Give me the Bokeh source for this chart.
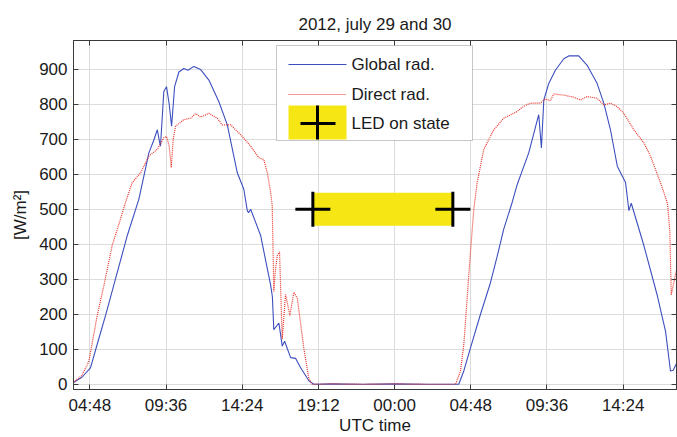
from bokeh.plotting import figure
from bokeh.models import (ColumnDataSource, FixedTicker, LinearAxis, Range1d,
                          BoxAnnotation, Arrow, Label)
from bokeh.embed import file_html
from bokeh.resources import INLINE

FONT = "Liberation Sans"
TITLE = "2012, july 29 and 30"
X_LABEL = "UTC time"
Y_LABEL = "[W/m²]"

# time in hours since 2012-07-29 00:00 UTC
x_ticks = [4.8, 9.6, 14.4, 19.2, 24.0, 28.8, 33.6, 38.4]
x_tick_labels = ["04:48", "09:36", "14:24", "19:12", "00:00", "04:48", "09:36", "14:24"]
y_ticks = [0, 100, 200, 300, 400, 500, 600, 700, 800, 900]

global_t = [3.77, 4.30, 4.84, 5.30, 5.80, 6.42, 7.16, 7.89, 8.52, 8.85, 9.05, 9.20, 9.25,
            9.46, 9.63, 9.80, 9.95, 10.14, 10.41, 10.72, 10.98, 11.35, 11.78, 12.30, 12.93,
            13.46, 14.09, 14.50, 14.72, 14.80, 14.93, 15.56, 16.19, 16.30, 16.39, 16.71,
            16.92, 17.07, 17.45, 17.76, 18.08, 18.60, 18.91, 20.0, 22.0, 24.0, 26.0, 27.5,
            28.04, 28.36, 28.78, 29.41, 30.04, 30.46, 30.88, 31.41, 31.72, 32.45, 33.08,
            33.25, 33.40, 33.71, 34.13, 34.66, 34.97, 35.60, 36.13, 36.76, 37.18, 37.60,
            38.03, 38.55, 38.70, 38.76, 38.91, 39.70, 40.54, 41.07, 41.38, 41.55, 41.83]
global_rad = [5, 20, 47, 120, 198, 302, 425, 529, 661, 700, 727, 690, 680,
              836, 850, 800, 737, 850, 892, 902, 897, 908, 899, 869, 807,
              741, 604, 557, 496, 490, 500, 425, 283, 250, 156, 175,
              109, 123, 76, 74, 47, 10, 0, 1, 0, 1, 0, 0,
              0, 38, 104, 200, 290, 365, 444, 520, 570, 661, 770,
              675, 812, 859, 897, 930, 938, 938, 911, 859, 803, 727,
              623, 576, 520, 496, 517, 397, 255, 151, 38, 40, 66]

direct_t = [3.77, 4.30, 4.74, 5.27, 5.69, 6.21, 6.73, 7.05, 7.47, 8.00, 8.52, 9.05, 9.46,
            9.63, 9.80, 9.93, 10.05, 10.20, 10.72, 11.15, 11.46, 11.78, 12.30, 12.83,
            13.14, 13.67, 14.30, 14.93, 15.45, 15.76, 16.00, 16.19, 16.29, 16.39, 16.50,
            16.61, 16.75, 16.92, 17.13, 17.40, 17.66, 17.87, 18.29, 18.60, 18.80, 20.0,
            22.0, 24.0, 26.0, 27.5, 27.84, 28.15, 28.36, 28.57, 28.78, 28.99, 29.20,
            29.62, 30.25, 30.88, 31.72, 32.00, 32.30, 32.56, 33.19, 33.50, 33.80, 34.03,
            34.66, 35.29, 35.71, 36.13, 36.76, 37.18, 37.60, 38.03, 38.44, 39.07, 39.70,
            40.12, 40.75, 41.17, 41.21, 41.34, 41.43, 41.64, 41.83]
direct_rad = [5, 25, 66, 198, 283, 397, 472, 520, 576, 604, 652, 671, 704,
              708, 680, 619, 700, 737, 756, 760, 773, 763, 774, 760,
              741, 741, 713, 680, 647, 642, 600, 548, 510, 265, 330,
              368, 378, 129, 257, 197, 263, 246, 100, 15, 0, 1,
              0, 1, 0, 0, 0, 38, 113, 246, 378, 500, 576,
              671, 727, 760, 779, 790, 798, 803, 803, 815, 810, 829,
              826, 820, 812, 822, 817, 798, 803, 793, 774, 727, 690,
              652, 576, 520, 510, 435, 255, 302, 340]

led_t = [18.85, 27.67]
led_level = [500, 500]

assert len(global_t) == len(global_rad)
assert len(direct_t) == len(direct_rad)

BLUE = "#3d4fbf"
RED = "#e8352a"
YELLOW = "#f6e714"
AXIS = "#3a3a3a"
TEXT = "#1a1a1a"

p = figure(width=677, height=437, output_backend="svg", toolbar_location=None,
           x_range=Range1d(3.77, 41.76), y_range=Range1d(-15, 982),
           min_border_left=73, min_border_right=1, min_border_top=40, min_border_bottom=45,
           title=TITLE)
p.background_fill_color = "white"
p.border_fill_color = "white"
p.outline_line_color = AXIS
p.outline_line_width = 1

p.title.align = "center"
p.title.text_font = FONT
p.title.text_font_size = "17px"
p.title.text_font_style = "normal"
p.title.text_color = TEXT
p.title.standoff = 13

bottom_axis = p.below[0]
left_axis = p.left[0]
bottom_axis.ticker = FixedTicker(ticks=x_ticks)
bottom_axis.major_label_overrides = {t: l for t, l in zip(x_ticks, x_tick_labels)}
left_axis.ticker = FixedTicker(ticks=y_ticks)
bottom_axis.axis_label = X_LABEL
left_axis.axis_label = Y_LABEL

top_axis = LinearAxis(ticker=FixedTicker(ticks=x_ticks))
right_axis = LinearAxis(ticker=FixedTicker(ticks=y_ticks))
p.add_layout(top_axis, "above")
p.add_layout(right_axis, "right")
for ax in (top_axis, right_axis):
    ax.major_label_text_font_size = "0px"
    ax.major_label_standoff = 0
    ax.major_label_text_color = None

for ax in (bottom_axis, left_axis, top_axis, right_axis):
    ax.axis_line_color = AXIS
    ax.major_tick_line_color = AXIS
    ax.major_tick_in = 5
    ax.major_tick_out = 0
    ax.minor_tick_line_color = None
for ax in (bottom_axis, left_axis):
    ax.major_label_text_font = FONT
    ax.major_label_text_font_size = "17px"
    ax.major_label_text_color = TEXT
    ax.axis_label_text_font = FONT
    ax.axis_label_text_font_size = "17px"
    ax.axis_label_text_font_style = "normal"
    ax.axis_label_text_color = TEXT
bottom_axis.major_label_standoff = 6
bottom_axis.axis_label_standoff = -2
left_axis.major_label_standoff = 6
left_axis.axis_label_standoff = 6

p.grid.grid_line_color = "#dcdcdc"
p.grid.grid_line_width = 1

src_g = ColumnDataSource(dict(t=global_t, v=global_rad))
src_d = ColumnDataSource(dict(t=direct_t, v=direct_rad))
src_led = ColumnDataSource(dict(t=led_t, v=led_level))

p.line("t", "v", source=src_g, line_color=BLUE, line_width=1.1)
p.line("t", "v", source=src_d, line_color=RED, line_width=1.2, line_dash="1 1")
p.line("t", "v", source=src_led, line_color=YELLOW, line_width=33, line_cap="butt")
p.scatter("t", "v", source=src_led, marker="cross", size=35, line_color="black", line_width=3)

# legend built from screen-unit annotations (x from frame left, y from frame bottom)
p.add_layout(BoxAnnotation(left=203, right=399, bottom=249, top=344,
                           left_units="screen", right_units="screen",
                           bottom_units="screen", top_units="screen",
                           fill_color="white", fill_alpha=1.0,
                           line_color="#444444", line_width=1, level="annotation"), "center")
p.add_layout(Arrow(start=None, end=None, x_start=215, y_start=325, x_end=273, y_end=325,
                   start_units="screen", end_units="screen",
                   line_color=BLUE, line_width=1.1), "center")
p.add_layout(Arrow(start=None, end=None, x_start=215, y_start=295, x_end=273, y_end=295,
                   start_units="screen", end_units="screen",
                   line_color=RED, line_width=1.2, line_dash="1 1"), "center")
p.add_layout(BoxAnnotation(left=215, right=273, bottom=250, top=284,
                           left_units="screen", right_units="screen",
                           bottom_units="screen", top_units="screen",
                           fill_color=YELLOW, fill_alpha=1.0, line_color=None,
                           level="annotation"), "center")
p.add_layout(Arrow(start=None, end=None, x_start=227, y_start=266, x_end=262, y_end=266,
                   start_units="screen", end_units="screen",
                   line_color="black", line_width=3), "center")
p.add_layout(Arrow(start=None, end=None, x_start=244, y_start=250, x_end=244, y_end=284,
                   start_units="screen", end_units="screen",
                   line_color="black", line_width=3), "center")
for ypos, txt in ((325, "Global rad."), (295, "Direct rad."), (266, "LED on state")):
    p.add_layout(Label(x=278, y=ypos, x_units="screen", y_units="screen", text=txt,
                       text_font=FONT, text_font_size="17px", text_color=TEXT,
                       text_baseline="middle", text_align="left"), "center")

open("out.html", "w").write(file_html(p, INLINE))
